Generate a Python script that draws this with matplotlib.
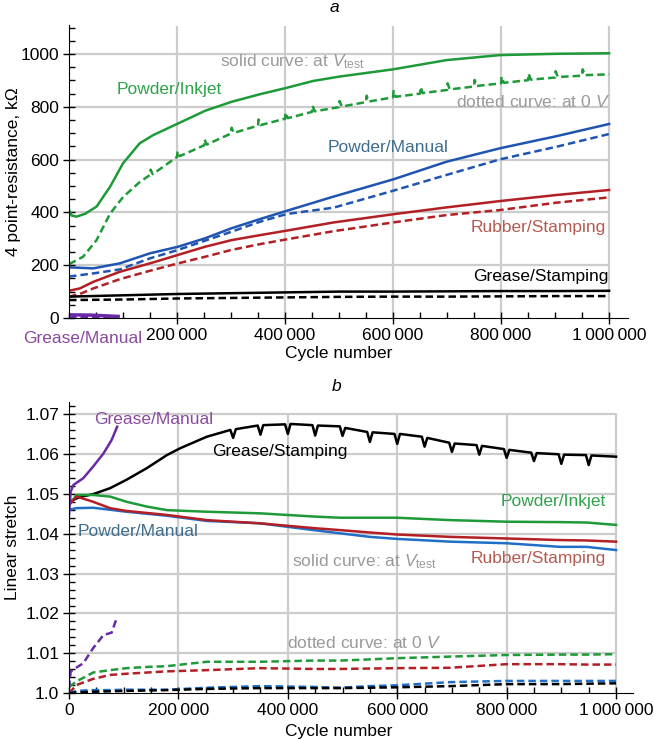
import numpy as np
import matplotlib
matplotlib.use("Agg")
from matplotlib import pyplot as plt
from matplotlib.ticker import FixedLocator, MultipleLocator

plt.rcParams['font.family'] = ['Liberation Sans', 'DejaVu Sans']
plt.rcParams['mathtext.fontset'] = 'custom'
plt.rcParams['mathtext.rm'] = 'Liberation Sans'
plt.rcParams['mathtext.it'] = 'Liberation Sans:italic'

# ---- panel a: 4 point-resistance (kOhm) vs cycle number (thousands) ----
inkjet_x = [0, 5, 14, 30, 51, 76, 100, 131, 156, 202, 252, 301, 354, 403, 452, 502, 600, 699, 798, 903, 1000]
inkjet_v = [410, 388, 384, 395, 422, 497, 586, 662, 693, 737, 785, 819, 848, 872, 898, 915, 942, 977, 996, 1001, 1003]
inkjet0_x = [0, 26, 51, 76, 100, 131, 150, 151, 155, 200, 201, 205, 250, 251, 255, 300, 301, 305,
             350, 351, 355, 400, 401, 405, 450, 451, 455, 500, 501, 505, 550, 551, 555, 600, 601, 605,
             650, 651, 655, 700, 701, 705, 750, 751, 755, 800, 801, 805, 850, 851, 855, 900, 901, 905,
             950, 951, 955, 1000]
inkjet0_v = [204, 232, 295, 395, 458, 515, 542, 562, 545, 610, 632, 613, 654, 676, 657, 699, 721, 701,
             729, 752, 731, 755, 778, 757, 781, 804, 783, 799, 822, 801, 818, 842, 820, 836, 860, 838,
             850, 875, 852, 864, 889, 866, 877, 902, 879, 889, 914, 891, 901, 926, 903, 911, 935, 913,
             918, 942, 920, 923]

manual_x = [0, 45, 94, 150, 202, 252, 301, 354, 403, 490, 600, 699, 798, 903, 1000]
manual_v = [192, 188, 207, 245, 270, 302, 340, 375, 406, 460, 525, 592, 643, 689, 735]
manual0_x = [0, 45, 94, 150, 202, 252, 301, 354, 403, 490, 600, 699, 798, 903, 1000]
manual0_v = [157, 169, 184, 226, 258, 293, 327, 365, 394, 418, 482, 542, 601, 649, 697]

rubber_x = [0, 20, 45, 94, 150, 202, 252, 301, 354, 403, 490, 600, 699, 798, 903, 1000]
rubber_v = [103, 112, 137, 175, 207, 239, 270, 295, 314, 331, 362, 393, 419, 443, 466, 485]
rubber0_v = [81, 91, 112, 147, 179, 207, 232, 258, 280, 298, 329, 362, 390, 409, 437, 457]

gstamp_x = [0, 100, 202, 300, 400, 500, 600, 700, 800, 900, 1000]
gstamp_v = [81, 86, 91, 94, 97, 100, 100, 101, 102, 102, 103]
gstamp0_v = [68, 70, 74, 76, 78, 80, 81, 81, 82, 83, 83]

gmanual_x = [0, 40, 91]
gmanual_v = [12, 11, 6]
gmanual0_v = [4, 4, 3]

# ---- panel b: linear stretch vs cycle number (thousands) ----
b_gstamp_x = [0, 20, 44, 75, 105, 142, 179, 203, 252, 295, 300, 305, 345, 350, 355, 395, 400, 405,
              445, 450, 455, 495, 500, 505, 545, 550, 555, 595, 600, 605, 645, 650, 655, 695, 700, 705,
              745, 750, 755, 795, 800, 805, 845, 850, 855, 895, 900, 905, 945, 950, 955, 1000]
b_gstamp_v = [1.0480, 1.0492, 1.0499, 1.0514, 1.0535, 1.0564, 1.0597, 1.0614, 1.0643, 1.0660, 1.0640, 1.0662,
              1.0671, 1.0648, 1.0672, 1.0674, 1.0650, 1.0675, 1.0672, 1.0646, 1.0671, 1.0669, 1.0645, 1.0665,
              1.0655, 1.0630, 1.0654, 1.0650, 1.0625, 1.0650, 1.0643, 1.0618, 1.0640, 1.0628, 1.0605, 1.0626,
              1.0622, 1.0598, 1.0620, 1.0612, 1.0590, 1.0610, 1.0603, 1.0582, 1.0602, 1.0599, 1.0575, 1.0598,
              1.0597, 1.0572, 1.0596, 1.0593]
b_x = [0, 14, 44, 75, 105, 142, 179, 252, 349, 447, 495, 550, 599, 697, 800, 898, 946, 1000]
b_inkjet_v = [1.0472, 1.0497, 1.0497, 1.0493, 1.0480, 1.0468, 1.0459, 1.0455, 1.0451, 1.0443, 1.0440,
              1.0440, 1.0440, 1.0434, 1.0430, 1.0429, 1.0428, 1.0422]
b_rubber_v = [1.0472, 1.0493, 1.0480, 1.0464, 1.0457, 1.0452, 1.0447, 1.0434, 1.0426, 1.0414, 1.0409,
              1.0403, 1.0398, 1.0392, 1.0388, 1.0384, 1.0383, 1.0380]
b_manual_v = [1.0460, 1.0464, 1.0465, 1.0460, 1.0455, 1.0450, 1.0445, 1.0432, 1.0426, 1.0409, 1.0401,
              1.0392, 1.0387, 1.0380, 1.0376, 1.0367, 1.0367, 1.0359]
b_inkjet0_v = [1.0016, 1.0030, 1.0052, 1.0058, 1.0063, 1.0066, 1.0068, 1.0079, 1.0079, 1.0082, 1.0082,
               1.0085, 1.0088, 1.0092, 1.0096, 1.0097, 1.0097, 1.0098]
b_rubber0_v = [1.0000, 1.0021, 1.0036, 1.0046, 1.0049, 1.0052, 1.0055, 1.0058, 1.0063, 1.0061, 1.0061,
               1.0062, 1.0063, 1.0064, 1.0073, 1.0073, 1.0072, 1.0072]
b_manual0_v = [1.0000, 1.0006, 1.0008, 1.0008, 1.0009, 1.0009, 1.0009, 1.0014, 1.0018, 1.0016, 1.0014,
               1.0018, 1.0020, 1.0028, 1.0031, 1.0031, 1.0031, 1.0031]
b_gstamp0_v = [1.0000, 1.0002, 1.0004, 1.0005, 1.0006, 1.0007, 1.0008, 1.0011, 1.0013, 1.0013, 1.0013,
               1.0014, 1.0015, 1.0018, 1.0023, 1.0023, 1.0024, 1.0025]
b_gmanual_x = [0, 3, 8, 26, 44, 63, 78, 88]
b_gmanual_v = [1.0447, 1.0505, 1.0522, 1.0539, 1.0568, 1.0601, 1.0635, 1.0668]
b_gmanual0_v = [1.0013, 1.0054, 1.0060, 1.0075, 1.0113, 1.0146, 1.0152, 1.0192]

GREEN = '#1e9a38'
BLUE = '#1f55b0'
LIGHTBLUE = '#1f6fc8'
RED = '#b21f24'
PURPLE = '#6a2aa8'
GRID = '#cccccc'
TXT_GREEN = '#2fa24a'
TXT_BLUE = '#3f6d8e'
TXT_RED = '#b55a50'
TXT_PURPLE = '#8a4a9e'
TXT_GRAY = '#9a9a9a'
FS = 12.5
LW = 1.8
DASH = (3, 1.6)


def k(xs):
    return np.array(xs) * 1000


def thin(v):
    return f"{int(v):,}".replace(",", "\u2009")


def style_axes(ax):
    for s in ['top', 'right']:
        ax.spines[s].set_visible(False)
    ax.tick_params(which='major', direction='inout', length=8, width=1, labelsize=FS, pad=3)
    ax.tick_params(which='minor', direction='in', length=4, width=1)
    ax.xaxis.set_minor_locator(MultipleLocator(50000))


fig = plt.figure(figsize=(6.54, 7.39), dpi=100)

# ---------------- panel a ----------------
ax1 = fig.add_axes([69 / 654, 1 - 318 / 739, 559 / 654, 293 / 739])
ax1.set_xlim(0, 1.035e6)
ax1.set_ylim(0, 1110)
style_axes(ax1)
xt1 = [200000, 400000, 600000, 800000, 1000000]
ax1.xaxis.set_major_locator(FixedLocator(xt1))
ax1.set_xticklabels([thin(v) for v in xt1])
ax1.yaxis.set_major_locator(FixedLocator([0, 200, 400, 600, 800, 1000]))
ax1.yaxis.set_minor_locator(MultipleLocator(50))
ax1.hlines([200, 400, 600, 800, 1000], 0, 1e6, color=GRID, lw=1.6, zorder=0)
ax1.vlines(xt1, 0, 1105, color=GRID, lw=1.6, zorder=0)

ax1.plot(k(inkjet_x), inkjet_v, color=GREEN, lw=LW)
ax1.plot(k(inkjet0_x), inkjet0_v, color=GREEN, lw=LW, dashes=DASH)
ax1.plot(k(manual_x), manual_v, color=BLUE, lw=LW)
ax1.plot(k(manual0_x), manual0_v, color=BLUE, lw=LW, dashes=DASH)
ax1.plot(k(rubber_x), rubber_v, color=RED, lw=LW)
ax1.plot(k(rubber_x), rubber0_v, color=RED, lw=LW, dashes=DASH)
ax1.plot(k(gstamp_x), gstamp_v, color='black', lw=LW)
ax1.plot(k(gstamp_x), gstamp0_v, color='black', lw=LW, dashes=DASH)
ax1.plot(k(gmanual_x), gmanual_v, color=PURPLE, lw=2.5)
ax1.plot(k(gmanual_x), gmanual0_v, color=PURPLE, lw=LW, dashes=DASH)

ax1.set_ylabel('4 point-resistance, k\u03a9', fontsize=FS)
ax1.yaxis.set_label_coords(-0.086, 0.5)
ax1.set_xlabel('Cycle number', fontsize=FS)
ax1.xaxis.set_label_coords(0.483, -0.095)
fig.text(334 / 654, 1 - 7 / 739, 'a', fontsize=FS, style='italic', ha='center', va='center')

ax1.text(413000, 970, 'solid curve: at $\\mathit{V}_{\\mathrm{test}}$', color=TXT_GRAY, fontsize=FS, ha='center', va='center')
ax1.text(185000, 867, 'Powder/Inkjet', color=TXT_GREEN, fontsize=FS, ha='center', va='center')
ax1.text(860000, 820, 'dotted curve: at 0 $\\mathit{V}$', color=TXT_GRAY, fontsize=FS, ha='center', va='center')
ax1.text(591000, 645, 'Powder/Manual', color=TXT_BLUE, fontsize=FS, ha='center', va='center')
ax1.text(868000, 344, 'Rubber/Stamping', color=TXT_RED, fontsize=FS, ha='center', va='center')
ax1.text(873000, 159, 'Grease/Stamping', color='black', fontsize=FS, ha='center', va='center')
ax1.text(25000, -76, 'Grease/Manual', color=TXT_PURPLE, fontsize=FS, ha='center', va='center', clip_on=False)

# ---------------- panel b ----------------
ax2 = fig.add_axes([69 / 654, 1 - 693.3 / 739, 564 / 654, 291.3 / 739])
ax2.set_xlim(0, 1.031e6)
ax2.set_ylim(1.0, 1.073)
style_axes(ax2)
xt2 = [0, 200000, 400000, 600000, 800000, 1000000]
ax2.xaxis.set_major_locator(FixedLocator(xt2))
ax2.set_xticklabels([thin(v) for v in xt2])
yt2 = [1.0, 1.01, 1.02, 1.03, 1.04, 1.05, 1.06, 1.07]
ax2.yaxis.set_major_locator(FixedLocator(yt2))
ax2.set_yticklabels(['1.0', '1.01', '1.02', '1.03', '1.04', '1.05', '1.06', '1.07'])
ax2.yaxis.set_minor_locator(MultipleLocator(0.002))
ax2.hlines(yt2[1:], 0, 1e6, color=GRID, lw=1.6, zorder=0)
ax2.vlines(xt2[1:], 1.0, 1.0703, color=GRID, lw=1.6, zorder=0)

ax2.plot(k(b_gstamp_x), b_gstamp_v, color='black', lw=LW)
ax2.plot(k(b_x), b_inkjet_v, color=GREEN, lw=LW)
ax2.plot(k(b_x), b_manual_v, color=LIGHTBLUE, lw=LW)
ax2.plot(k(b_x), b_rubber_v, color=RED, lw=LW)
ax2.plot(k(b_gmanual_x), b_gmanual_v, color=PURPLE, lw=LW)
ax2.plot(k(b_x), b_inkjet0_v, color=GREEN, lw=LW, dashes=DASH)
ax2.plot(k(b_x), b_rubber0_v, color=RED, lw=LW, dashes=DASH)
ax2.plot(k(b_x), b_manual0_v, color=LIGHTBLUE, lw=LW, dashes=DASH)
ax2.plot(k(b_x), b_gstamp0_v, color='black', lw=LW, dashes=DASH)
ax2.plot(k(b_gmanual_x), b_gmanual0_v, color=PURPLE, lw=LW, dashes=DASH)

ax2.set_ylabel('Linear stretch', fontsize=FS)
ax2.yaxis.set_label_coords(-0.086, 0.5)
ax2.set_xlabel('Cycle number', fontsize=FS)
ax2.xaxis.set_label_coords(0.479, -0.105)
fig.text(337 / 654, 1 - 386 / 739, 'b', fontsize=FS, style='italic', ha='center', va='center')

ax2.text(155000, 1.0687, 'Grease/Manual', color=TXT_PURPLE, fontsize=FS, ha='center', va='center')
ax2.text(385000, 1.0607, 'Grease/Stamping', color='black', fontsize=FS, ha='center', va='center')
ax2.text(885000, 1.0481, 'Powder/Inkjet', color=TXT_GREEN, fontsize=FS, ha='center', va='center')
ax2.text(126000, 1.0405, 'Powder/Manual', color=TXT_BLUE, fontsize=FS, ha='center', va='center')
ax2.text(858000, 1.0338, 'Rubber/Stamping', color=TXT_RED, fontsize=FS, ha='center', va='center')
ax2.text(541000, 1.0330, 'solid curve: at $\\mathit{V}_{\\mathrm{test}}$', color=TXT_GRAY, fontsize=FS, ha='center', va='center')
ax2.text(539000, 1.0125, 'dotted curve: at 0 $\\mathit{V}$', color=TXT_GRAY, fontsize=FS, ha='center', va='center')

fig.savefig('out.png', dpi=100)
